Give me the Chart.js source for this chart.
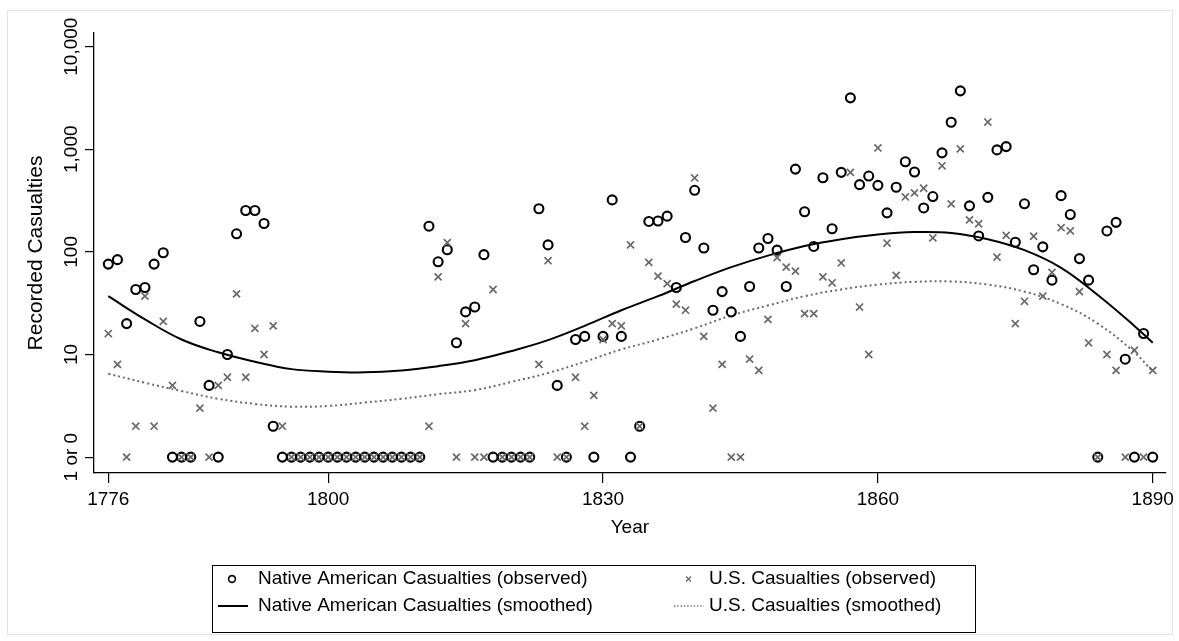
<!DOCTYPE html>
<html>
<head>
<meta charset="utf-8">
<script src="https://cdn.jsdelivr.net/npm/chart.js@4.4.1/dist/chart.umd.min.js"></script>
<style>
  html, body { margin: 0; padding: 0; background: #fff; }
  #wrap { position: relative; width: 1179px; height: 641px; }
</style>
</head>
<body>
<div id="wrap"><canvas id="casualties" width="1179" height="641"></canvas></div>
<script>
// one row per year, 0 = no recorded casualties (plotted on the "1 or 0" line)
const years = [
  1776, 1777, 1778, 1779, 1780, 1781, 1782, 1783, 1784, 1785, 1786, 1787, 1788, 1789,
  1790, 1791, 1792, 1793, 1794, 1795, 1796, 1797, 1798, 1799, 1800, 1801, 1802, 1803,
  1804, 1805, 1806, 1807, 1808, 1809, 1810, 1811, 1812, 1813, 1814, 1815, 1816, 1817,
  1818, 1819, 1820, 1821, 1822, 1823, 1824, 1825, 1826, 1827, 1828, 1829, 1830, 1831,
  1832, 1833, 1834, 1835, 1836, 1837, 1838, 1839, 1840, 1841, 1842, 1843, 1844, 1845,
  1846, 1847, 1848, 1849, 1850, 1851, 1852, 1853, 1854, 1855, 1856, 1857, 1858, 1859,
  1860, 1861, 1862, 1863, 1864, 1865, 1866, 1867, 1868, 1869, 1870, 1871, 1872, 1873,
  1874, 1875, 1876, 1877, 1878, 1879, 1880, 1881, 1882, 1883, 1884, 1885, 1886, 1887,
  1888, 1889, 1890
];
const nativeObserved = [
  76, 84, 20, 43, 45, 76, 98, 0, 0, 0, 21, 5, 0, 10,
  150, 253, 253, 189, 2, 0, 0, 0, 0, 0, 0, 0, 0, 0,
  0, 0, 0, 0, 0, 0, 0, 178, 80, 105, 13, 26, 29, 94,
  0, 0, 0, 0, 0, 263, 117, 5, 0, 14, 15, 0, 15, 321,
  15, 0, 2, 198, 200, 223, 45, 138, 398, 109, 27, 41, 26, 15,
  46, 109, 135, 104, 46, 641, 246, 113, 528, 168, 596, 3170, 452, 548,
  445, 240, 426, 755, 600, 268, 346, 923, 1832, 3707, 281, 143, 340, 986,
  1062, 124, 294, 67, 112, 53, 353, 231, 86, 53, 0, 160, 194, 9,
  0, 16, 0
];
const usObserved = [
  16, 8, 0, 2, 37, 2, 21, 5, 0, 0, 3, 0, 5, 6,
  39, 6, 18, 10, 19, 2, 0, 0, 0, 0, 0, 0, 0, 0,
  0, 0, 0, 0, 0, 0, 0, 2, 57, 123, 0, 20, 0, 0,
  43, 0, 0, 0, 0, 8, 82, 0, 0, 6, 2, 4, 14, 20,
  19, 117, 2, 79, 58, 49, 31, 27, 525, 15, 3, 8, 0, 0,
  9, 7, 22, 88, 71, 65, 25, 25, 57, 50, 78, 595, 29, 10,
  1030, 122, 59, 343, 376, 417, 137, 690, 294, 1009, 205, 188, 1842, 89,
  145, 20, 33, 142, 37, 63, 172, 160, 41, 13, 0, 10, 7, 0,
  11, 0, 7
];

// smoothed curves, every few years
const smoothYears = [
  1776, 1780, 1784, 1788, 1792, 1796, 1800, 1804, 1808, 1812, 1816, 1820, 1824, 1828,
  1832, 1836, 1840, 1844, 1848, 1852, 1856, 1860, 1864, 1868, 1872, 1876, 1880, 1884,
  1888, 1890
];
const nativeSmoothed = [
  37, 22, 14, 10.5, 8.5, 7.2, 6.8, 6.7, 7.0, 7.7, 8.8, 10.8, 13.8, 19,
  27, 37, 52, 71, 92, 114, 133, 148, 156, 153, 133, 104, 70, 38,
  19, 13
];
const usSmoothed = [
  6.5, 5.3, 4.4, 3.7, 3.3, 3.1, 3.15, 3.4, 3.7, 4.1, 4.5, 5.4, 6.6, 8.5,
  11.2, 14, 18, 24, 30, 37, 43, 48, 51, 51.5, 48, 41, 31, 20,
  10.5, 6.8
];

const xTicks = [1776, 1800, 1830, 1860, 1890];
const yTicks = [1, 10, 100, 1000, 10000];
const yTickLabels = ['1 or 0', '10', '100', '1,000', '10,000'];

const FONT = '"Liberation Sans", Arial, Helvetica, sans-serif';
const GREY = '#6a6a6a';

// zero is drawn on the "1 or 0" line
function toPoints(xs, ys) {
  return ys.map((v, i) => ({ x: xs[i], y: v === 0 ? 1 : v }));
}

const framePlugin = {
  id: 'frame',
  beforeDraw(chart) {
    const ctx = chart.ctx;
    ctx.save();
    ctx.fillStyle = '#fff';
    ctx.fillRect(0, 0, chart.width, chart.height);
    ctx.strokeStyle = '#e4e4e4';
    ctx.lineWidth = 1;
    ctx.strokeRect(7.5, 10.5, 1165, 624);
    ctx.restore();
  },
  afterDraw(chart) {
    const ctx = chart.ctx;
    const y = chart.scales.y;
    // rotated y tick labels
    ctx.save();
    ctx.fillStyle = '#000';
    ctx.font = '19px ' + FONT;
    ctx.textAlign = 'center';
    ctx.textBaseline = 'middle';
    yTicks.forEach((v, i) => {
      ctx.save();
      ctx.translate(72, y.getPixelForValue(v));
      ctx.rotate(-Math.PI / 2);
      ctx.fillText(yTickLabels[i], 0, 0);
      ctx.restore();
    });
    ctx.restore();

    // legend box
    ctx.save();
    ctx.strokeStyle = '#000';
    ctx.lineWidth = 1;
    ctx.strokeRect(212.5, 565.5, 763, 67);
    ctx.font = '19px ' + FONT;
    ctx.fillStyle = '#000';
    ctx.textAlign = 'left';
    ctx.textBaseline = 'middle';
    const r1 = 579, r2 = 606;
    // circle
    ctx.beginPath();
    ctx.lineWidth = 1.6;
    ctx.arc(232, r1, 3.4, 0, Math.PI * 2);
    ctx.stroke();
    ctx.fillText('Native American Casualties (observed)', 258, r1);
    // cross
    ctx.strokeStyle = GREY;
    ctx.lineWidth = 1.3;
    ctx.beginPath();
    ctx.moveTo(686, r1 - 2.5); ctx.lineTo(691, r1 + 2.5);
    ctx.moveTo(686, r1 + 2.5); ctx.lineTo(691, r1 - 2.5);
    ctx.stroke();
    ctx.fillText('U.S. Casualties (observed)', 709, r1);
    // solid line
    ctx.strokeStyle = '#000';
    ctx.lineWidth = 2;
    ctx.beginPath();
    ctx.moveTo(218, r2); ctx.lineTo(248, r2);
    ctx.stroke();
    ctx.fillText('Native American Casualties (smoothed)', 258, r2);
    // dotted line
    ctx.strokeStyle = GREY;
    ctx.lineWidth = 1.3;
    ctx.setLineDash([1.3, 2]);
    ctx.beginPath();
    ctx.moveTo(674, r2); ctx.lineTo(704, r2);
    ctx.stroke();
    ctx.setLineDash([]);
    ctx.fillText('U.S. Casualties (smoothed)', 709, r2);
    ctx.restore();
  }
};

new Chart(document.getElementById('casualties'), {
  type: 'scatter',
  data: {
    datasets: [
      {
        label: 'U.S. Casualties (observed)',
        data: toPoints(years, usObserved),
        pointStyle: 'crossRot',
        pointRadius: 5,
        pointBorderWidth: 1.7,
        borderColor: GREY,
        backgroundColor: GREY,
        order: 1
      },
      {
        label: 'Native American Casualties (observed)',
        data: toPoints(years, nativeObserved),
        pointStyle: 'circle',
        pointRadius: 4.5,
        pointBorderWidth: 2.1,
        borderColor: '#000',
        backgroundColor: 'rgba(0,0,0,0)',
        order: 2
      },
      {
        label: 'Native American Casualties (smoothed)',
        data: toPoints(smoothYears, nativeSmoothed),
        showLine: true,
        pointRadius: 0,
        borderColor: '#000',
        borderWidth: 2,
        tension: 0.4,
        order: 3
      },
      {
        label: 'U.S. Casualties (smoothed)',
        data: toPoints(smoothYears, usSmoothed),
        showLine: true,
        pointRadius: 0,
        borderColor: GREY,
        borderWidth: 2,
        borderDash: [2, 3],
        tension: 0.4,
        order: 4
      }
    ]
  },
  options: {
    responsive: false,
    animation: false,
    events: [],
    layout: { padding: { left: 0, right: 11, top: 33, bottom: 0 } },
    plugins: {
      legend: { display: false },
      tooltip: { enabled: false }
    },
    scales: {
      x: {
        type: 'linear',
        min: 1774.44,
        max: 1891.42,
        afterBuildTicks: (scale) => { scale.ticks = xTicks.map(v => ({ value: v })); },
        afterFit: (scale) => { scale.height = 168; },
        grid: { drawOnChartArea: false, drawTicks: true, tickLength: 10, color: '#000', lineWidth: 1.2 },
        border: { display: true, color: '#000', width: 1.3 },
        ticks: {
          color: '#000',
          padding: 5,
          font: { family: FONT, size: 19 },
          callback: (v) => String(v)
        },
        title: {
          display: true,
          text: 'Year',
          color: '#000',
          font: { family: FONT, size: 19 },
          padding: { top: 0, bottom: 102 }
        }
      },
      y: {
        type: 'logarithmic',
        min: 0.741,
        max: 13584,
        afterBuildTicks: (scale) => { scale.ticks = yTicks.map(v => ({ value: v })); },
        afterFit: (scale) => { scale.width = 94; },
        grid: { drawOnChartArea: false, drawTicks: true, tickLength: 9, color: '#000', lineWidth: 1.2 },
        border: { display: true, color: '#000', width: 1.3 },
        ticks: { display: false },
        title: {
          display: true,
          text: 'Recorded Casualties',
          color: '#000',
          font: { family: FONT, size: 21 },
          padding: { top: 24, bottom: 0 }
        }
      }
    }
  },
  plugins: [framePlugin]
});
</script>
</body>
</html>
